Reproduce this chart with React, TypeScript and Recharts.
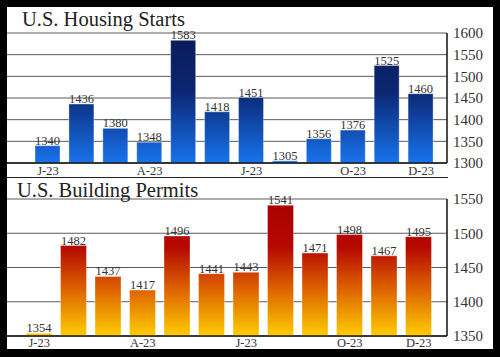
import { BarChart, Bar, XAxis, YAxis, CartesianGrid, LabelList } from 'recharts';

const months = ['Jan-23', 'Feb-23', 'Mar-23', 'Apr-23', 'May-23', 'Jun-23', 'Jul-23', 'Aug-23', 'Sep-23', 'Oct-23', 'Nov-23', 'Dec-23'];
const axisLabels = ['J-23', '', '', 'A-23', '', '', 'J-23', '', '', 'O-23', '', 'D-23'];
const housingStarts = [1340, 1436, 1380, 1348, 1583, 1418, 1451, 1305, 1356, 1376, 1525, 1460];
const buildingPermits = [1354, 1482, 1437, 1417, 1496, 1441, 1443, 1541, 1471, 1498, 1467, 1495];
const startsTicks = [1300, 1350, 1400, 1450, 1500, 1550, 1600];
const permitsTicks = [1350, 1400, 1450, 1500, 1550];

const serif = '"Liberation Serif", "DejaVu Serif", serif';

const startsData = months.map((m, i) => ({ month: m, value: housingStarts[i] }));
const permitsData = months.map((m, i) => ({ month: m, value: buildingPermits[i] }));

const tickFmt = (_v: string, i: number) => axisLabels[i];

export default function App() {
  return (
    <div style={{ position: 'relative', width: 500, height: 357, background: '#000', overflow: 'hidden' }}>
      <style>{`body{margin:0}`}</style>
      <div style={{ position: 'absolute', left: 7, top: 7, width: 486, height: 342, background: '#fff' }}>
        {/* housing starts */}
        <div style={{ position: 'absolute', left: 0, top: 0 }}>
          <BarChart width={486} height={170} data={startsData} margin={{ top: 26, right: 0, bottom: 0, left: 0 }}>
            <defs>
              <linearGradient id="blueGrad" gradientUnits="userSpaceOnUse" x1="0" y1="26" x2="0" y2="156">
                <stop offset="0%" stopColor="#0a1a58" />
                <stop offset="45%" stopColor="#0b2672" />
                <stop offset="100%" stopColor="#1873ec" />
              </linearGradient>
            </defs>
            <CartesianGrid vertical={false} stroke="#5a5a5a" />
            <XAxis
              dataKey="month"
              interval={0}
              tickFormatter={tickFmt}
              padding={{ left: 24, right: 9 }}
              height={14}
              tickSize={0}
              tickMargin={3}
              tickLine={false}
              axisLine={{ stroke: '#111', strokeWidth: 1.5 }}
              tick={{ fill: '#333', fontSize: 12.5, fontFamily: serif }}
            />
            <YAxis
              orientation="right"
              width={46}
              domain={[1300, 1600]}
              ticks={startsTicks}
              interval={0}
              tickSize={0}
              tickMargin={6}
              tickLine={false}
              axisLine={{ stroke: '#111', strokeWidth: 1.5 }}
              tick={{ fill: '#333', fontSize: 15, fontFamily: serif, textAnchor: 'start' }}
            />
            <Bar dataKey="value" fill="url(#blueGrad)" barSize={25} stroke="#ffffff" strokeOpacity={0.35} isAnimationActive={false}>
              <LabelList dataKey="value" position="top" offset={1} fill="#333" fontSize={12.5} fontFamily={serif} />
            </Bar>
          </BarChart>
        </div>
        <div style={{ position: 'absolute', left: 0, top: 170, width: 441, height: 1, background: '#222' }} />
        <div style={{ position: 'absolute', left: 15, top: 2, fontFamily: serif, fontSize: 20.5, color: '#222', lineHeight: '20px' }}>
          U.S. Housing Starts
        </div>

        {/* building permits */}
        <div style={{ position: 'absolute', left: 0, top: 170 }}>
          <BarChart width={486} height={175} data={permitsData} margin={{ top: 22, right: 0, bottom: 0, left: 0 }}>
            <defs>
              <linearGradient id="redGrad" gradientUnits="userSpaceOnUse" x1="0" y1="22" x2="0" y2="159">
                <stop offset="0%" stopColor="#a80000" />
                <stop offset="35%" stopColor="#b50800" />
                <stop offset="65%" stopColor="#dc6000" />
                <stop offset="100%" stopColor="#ffcc00" />
              </linearGradient>
            </defs>
            <CartesianGrid vertical={false} stroke="#5a5a5a" />
            <XAxis
              dataKey="month"
              interval={0}
              tickFormatter={tickFmt}
              padding={{ left: 15, right: 11 }}
              height={16}
              tickSize={0}
              tickMargin={2}
              tickLine={false}
              axisLine={{ stroke: '#111', strokeWidth: 1.5 }}
              tick={{ fill: '#333', fontSize: 12.5, fontFamily: serif }}
            />
            <YAxis
              orientation="right"
              width={46}
              domain={[1350, 1550]}
              ticks={permitsTicks}
              interval={0}
              tickSize={0}
              tickMargin={6}
              tickLine={false}
              axisLine={{ stroke: '#111', strokeWidth: 1.5 }}
              tick={{ fill: '#333', fontSize: 15, fontFamily: serif, textAnchor: 'start' }}
            />
            <Bar dataKey="value" fill="url(#redGrad)" barSize={26} stroke="#ffffff" strokeOpacity={0.35} isAnimationActive={false}>
              <LabelList dataKey="value" position="top" offset={1} fill="#333" fontSize={12.5} fontFamily={serif} />
            </Bar>
          </BarChart>
        </div>
        <div style={{ position: 'absolute', left: 10, top: 173, fontFamily: serif, fontSize: 20.5, color: '#222', lineHeight: '20px' }}>
          U.S. Building Permits
        </div>
      </div>
    </div>
  );
}
